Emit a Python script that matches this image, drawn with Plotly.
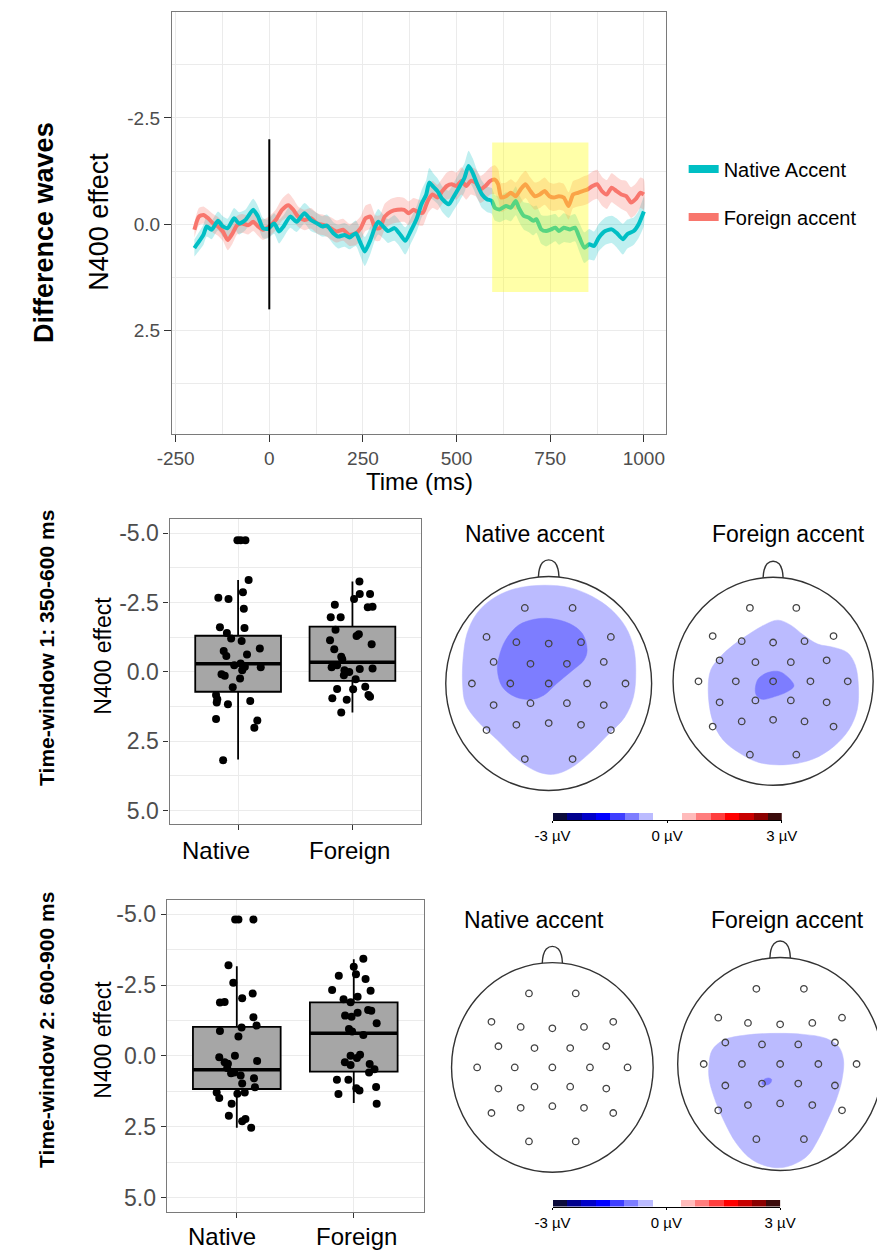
import plotly.graph_objects as go

W, H = 893, 1250
FONT = "Liberation Sans, Arial, sans-serif"

# ---------------- data: difference waves ----------------
native_t = [-200, -188, -176, -167, -154, -137, -124, -111, -94, -81,
            -64, -43, -30, -17, -4, 13, 26, 38, 56, 73,
            94, 111, 128, 141, 154, 171, 184, 201, 214, 231,
            244, 255, 270, 283, 291, 304, 317, 334, 347, 363,
            377, 394, 406, 419, 427, 436, 449, 462, 479, 491,
            509, 521, 532, 543, 555, 568, 581, 594, 602, 615,
            632, 645, 658, 666, 679, 692, 705, 713, 726, 739,
            752, 764, 773, 786, 803, 816, 828, 841, 854, 867,
            880, 897, 914, 927, 944, 956, 973, 986, 1000]
native_v = [0.56, 0.41, 0.25, 0.05, 0.13, -0.08, 0.05, 0.09, -0.14, -0.02,
            -0.10, -0.34, -0.18, 0.09, 0.11, -0.02, 0.17, 0.05, -0.18, -0.06,
            -0.26, -0.10, -0.02, 0.05, 0.03, 0.21, 0.29, 0.25, 0.31, 0.21,
            0.45, 0.64, 0.37, 0.05, -0.06, 0.05, 0.16, 0.09, 0.21, 0.39,
            0.17, -0.14, -0.47, -0.70, -0.98, -0.90, -0.78, -0.59, -0.47, -0.63,
            -0.90, -1.09, -1.37, -1.21, -0.94, -0.70, -0.59, -0.55, -0.39, -0.35,
            -0.43, -0.39, -0.55, -0.39, -0.20, -0.16, -0.08, -0.12, 0.12, 0.16,
            0.12, 0.08, 0.16, 0.08, 0.12, 0.08, 0.31, 0.55, 0.47, 0.51,
            0.31, 0.16, 0.12, 0.20, 0.35, 0.23, 0.16, 0.00, -0.30]
native_se = [0.20, 0.22, 0.24, 0.24, 0.22, 0.22, 0.24, 0.22, 0.24, 0.26,
             0.24, 0.26, 0.24, 0.24, 0.22, 0.24, 0.28, 0.26, 0.26, 0.24,
             0.24, 0.26, 0.24, 0.24, 0.26, 0.26, 0.28, 0.28, 0.28, 0.30,
             0.32, 0.34, 0.32, 0.30, 0.30, 0.28, 0.28, 0.30, 0.30, 0.32,
             0.30, 0.30, 0.32, 0.34, 0.34, 0.32, 0.30, 0.30, 0.32, 0.32,
             0.34, 0.34, 0.36, 0.34, 0.32, 0.32, 0.30, 0.30, 0.30, 0.30,
             0.32, 0.32, 0.34, 0.32, 0.32, 0.34, 0.34, 0.32, 0.34, 0.36,
             0.34, 0.32, 0.32, 0.34, 0.32, 0.32, 0.34, 0.36, 0.36, 0.34,
             0.32, 0.32, 0.32, 0.34, 0.36, 0.34, 0.32, 0.32, 0.34]

foreign_t = [-200, -188, -176, -163, -150, -137, -124, -111, -98, -86,
             -73, -56, -43, -30, -17, 0, 17, 34, 51, 64,
             77, 94, 111, 128, 146, 163, 180, 197, 214, 231,
             244, 257, 270, 283, 295, 308, 325, 342, 360, 372,
             385, 398, 410, 423, 436, 449, 462, 474, 487, 500,
             513, 526, 538, 551, 564, 577, 590, 602, 611, 619,
             632, 645, 658, 671, 684, 697, 709, 722, 735, 748,
             760, 773, 786, 799, 811, 824, 837, 850, 863, 875,
             888, 901, 914, 927, 940, 953, 966, 978, 991, 1000]
foreign_v = [0.13, -0.18, -0.22, -0.14, -0.02, 0.05, 0.17, 0.37, 0.21, 0.02,
             -0.02, 0.02, -0.06, 0.05, 0.13, 0.05, -0.10, -0.34, -0.45, -0.34,
             -0.18, -0.10, -0.14, -0.02, 0.02, 0.09, 0.17, 0.13, 0.25, 0.21,
             0.09, -0.14, -0.18, 0.09, 0.09, -0.18, -0.30, -0.34, -0.34, -0.26,
             -0.34, -0.28, -0.27, -0.55, -0.70, -0.63, -0.78, -0.90, -0.94, -0.90,
             -1.02, -0.90, -1.02, -0.98, -0.82, -0.90, -1.02, -1.05, -0.94, -0.63,
             -0.66, -0.74, -0.66, -0.82, -0.94, -0.78, -0.66, -0.70, -0.78, -0.66,
             -0.63, -0.66, -0.63, -0.43, -0.70, -0.74, -0.78, -0.82, -0.90, -0.94,
             -0.78, -0.70, -0.86, -0.78, -0.70, -0.66, -0.51, -0.59, -0.74, -0.70]
foreign_se = [0.18, 0.20, 0.20, 0.20, 0.22, 0.22, 0.22, 0.24, 0.24, 0.22,
              0.22, 0.22, 0.22, 0.22, 0.24, 0.24, 0.24, 0.26, 0.28, 0.26,
              0.24, 0.24, 0.24, 0.24, 0.24, 0.26, 0.26, 0.26, 0.26, 0.28,
              0.28, 0.30, 0.30, 0.30, 0.30, 0.30, 0.30, 0.30, 0.28, 0.28,
              0.28, 0.30, 0.30, 0.30, 0.32, 0.30, 0.30, 0.32, 0.32, 0.32,
              0.32, 0.32, 0.32, 0.32, 0.32, 0.32, 0.32, 0.34, 0.36, 0.34,
              0.32, 0.32, 0.32, 0.32, 0.32, 0.32, 0.32, 0.32, 0.32, 0.32,
              0.32, 0.32, 0.32, 0.32, 0.32, 0.32, 0.34, 0.34, 0.34, 0.34,
              0.34, 0.34, 0.34, 0.34, 0.34, 0.36, 0.36, 0.36, 0.36, 0.36]

onset_t = 0
onset_span = [-2.0, 2.0]
window_t = [595, 852]
window_v = [-1.92, 1.59]

wave_xticks = [-250, 0, 250, 500, 750, 1000]
wave_xtext = ["-250", "0", "250", "500", "750", "1000"]
wave_xminor = [-125, 125, 375, 625, 875]
wave_yticks = [-2.5, 0.0, 2.5]
wave_ytext = ["-2.5", "0.0", "2.5"]
wave_yminor = [-3.75, -1.25, 1.25, 3.75]
series_names = ["Native Accent", "Foreign accent"]

# ---------------- data: box plots ----------------
box_categories = ["Native", "Foreign"]
box_pos = [1, 2]
box_yticks = [-5.0, -2.5, 0.0, 2.5, 5.0]
box_ytext = ["-5.0", "-2.5", "0.0", "2.5", "5.0"]
box_yminor = [-3.75, -1.25, 1.25, 3.75]

tw1_q1 = [-1.30, -1.63]
tw1_median = [-0.29, -0.34]
tw1_q3 = [0.72, 0.33]
tw1_lower = [-3.31, -3.26]
tw1_upper = [3.16, 1.47]
tw1_native_pts = [-4.74, -4.74, -4.74, -3.31, -2.87, -2.67, -2.63, -2.27, -1.61, -1.58,
                  -1.40, -1.20, -1.11, -0.84, -0.75, -0.57, -0.62, -0.24, -0.30, -0.18,
                  -0.16, -0.06, 0.09, 0.14, 0.24, 0.56, 0.84, 0.99, 1.11, 1.17,
                  1.05, 1.70, 1.76, 2.02, 3.19]
tw1_native_jit = [-0.006, 0.022, 0.064, 0.092, 0.042, -0.173, -0.084, 0.050, -0.159, 0.056,
                  -0.098, -0.061, 0.031, 0.190, -0.126, -0.103, 0.078, -0.034, 0.022, 0.059,
                  0.198, 0.036, -0.145, -0.117, 0.017, -0.047, -0.193, -0.182, -0.187, -0.089,
                  0.106, -0.193, 0.168, 0.142, -0.131]
tw1_foreign_pts = [-3.26, -2.81, -2.81, -2.63, -2.42, -2.33, -2.35, -1.97, -1.97, -1.52,
                   -1.29, -1.35, -1.14, -0.99, -0.81, -0.54, -0.45, -0.16, -0.24, -0.06,
                   0.01, -0.10, -0.12, 0.12, 0.27, 0.62, 0.63, 0.54, 0.95, 1.01,
                   0.84, 0.90, 1.47]
tw1_foreign_jit = [0.061, 0.064, 0.154, 0.014, -0.154, 0.134, 0.176, -0.190, -0.103, -0.148,
                   0.036, 0.056, -0.196, 0.168, -0.159, -0.098, -0.089, -0.182, -0.134, -0.070,
                   -0.028, 0.064, 0.176, -0.075, 0.028, -0.134, 0.006, 0.112, -0.176, -0.050,
                   0.140, 0.154, -0.098]

tw2_q1 = [-1.02, -1.89]
tw2_median = [0.49, -0.80]
tw2_q3 = [1.17, 0.56]
tw2_lower = [-3.16, -3.41]
tw2_upper = [2.54, 1.66]
tw2_native_pts = [-4.81, -4.81, -4.81, -3.20, -2.58, -2.03, -2.20, -1.88, -1.90, -1.36,
                  -1.07, -1.00, -0.88, -0.68, 0.00, 0.05, 0.23, 0.18, 0.43, 0.28,
                  0.61, 0.59, 0.69, 0.98, 0.79, 1.11, 1.29, 1.49, 1.34, 1.29,
                  1.69, 2.11, 2.31, 2.23, 2.54]
tw2_native_jit = [-0.014, 0.014, 0.142, -0.071, -0.030, 0.046, 0.136, -0.144, -0.104, 0.142,
                  0.169, 0.041, -0.144, 0.014, -0.016, -0.150, -0.104, 0.174, -0.082, -0.076,
                  -0.049, -0.022, 0.033, 0.046, 0.147, 0.155, -0.172, -0.150, 0.005, 0.068,
                  -0.044, -0.068, 0.046, 0.074, 0.123]
tw2_foreign_pts = [-3.43, -3.14, -2.88, -2.83, -2.71, -2.32, -2.30, -2.09, -2.00, -1.89,
                   -1.42, -1.38, -1.52, -1.62, -1.59, -1.15, -0.95, -0.86, -0.74, 0.00,
                   -0.04, 0.08, 0.23, 0.32, 0.29, 0.47, 0.59, 0.84, 0.84, 1.14,
                   1.22, 1.10, 1.35, 1.69]
tw2_foreign_jit = [0.082, 0.000, 0.019, -0.128, 0.101, -0.185, 0.144, 0.033, -0.087, -0.027,
                   -0.074, -0.019, 0.033, 0.123, 0.150, 0.196, -0.041, -0.014, 0.082, -0.027,
                   0.054, 0.027, -0.076, -0.027, 0.136, 0.177, 0.131, -0.144, -0.046, 0.022,
                   0.049, 0.191, -0.131, 0.196]

# ---------------- data: topographic maps (head radius = 1) ----------------
elec_x = [-0.232, 0.232, -0.604, -0.314, 0.0, 0.314, 0.604, -0.535, -0.177, 0.177, 0.535,
          -0.746, -0.373, 0.0, 0.373, 0.746, -0.535, -0.177, 0.177, 0.535,
          -0.604, -0.314, 0.0, 0.314, 0.604, -0.232, 0.232]
elec_y = [0.706, 0.706, 0.435, 0.386, 0.373, 0.386, 0.435, 0.202, 0.184, 0.184, 0.202,
          0.0, 0.0, 0.0, 0.0, 0.0, -0.202, -0.184, -0.184, -0.202,
          -0.435, -0.386, -0.370, -0.386, -0.435, -0.706, -0.706]
head_radius = 1.0
nose_x = [-0.10, -0.09, -0.06, 0.0, 0.06, 0.09, 0.10]
nose_y = [0.995, 1.07, 1.13, 1.155, 1.13, 1.07, 0.995]

tw1_native_light_x = [-0.830, -0.793, -0.700, -0.544, -0.327, -0.047, 0.202, 0.420, 0.607, 0.747, 0.824, 0.846,
                      0.824, 0.737, 0.582, 0.395, 0.208, 0.047, -0.109, -0.295, -0.498, -0.700, -0.809, -0.837]
tw1_native_light_y = [0.249, 0.467, 0.653, 0.793, 0.886, 0.918, 0.896, 0.815, 0.691, 0.529, 0.342, 0.124,
                      -0.124, -0.317, -0.473, -0.653, -0.793, -0.849, -0.824, -0.715, -0.529, -0.342, -0.187, 0.0]
tw1_native_dark_x = [-0.498, -0.482, -0.420, -0.295, -0.140, 0.016, 0.202, 0.327, 0.373, 0.342, 0.233, 0.078,
                     -0.047, -0.171, -0.327, -0.451]
tw1_native_dark_y = [0.124, 0.249, 0.404, 0.544, 0.600, 0.607, 0.560, 0.467, 0.311, 0.218, 0.124, 0.0,
                     -0.109, -0.149, -0.124, -0.031]
tw1_foreign_light_x = [-0.649, -0.623, -0.527, -0.399, -0.256, -0.112, 0.048, 0.176, 0.304, 0.447, 0.607, 0.744,
                       0.821, 0.853, 0.840, 0.757, 0.607, 0.399, 0.128, -0.144, -0.335, -0.502, -0.607]
tw1_foreign_light_y = [-0.083, 0.109, 0.236, 0.348, 0.444, 0.530, 0.588, 0.540, 0.444, 0.358, 0.326, 0.275,
                       0.157, -0.051, -0.275, -0.466, -0.626, -0.748, -0.802, -0.780, -0.690, -0.562, -0.371]
tw1_foreign_dark_x = [-0.176, -0.144, -0.048, 0.064, 0.160, 0.208, 0.144, 0.016, -0.112, -0.169]
tw1_foreign_dark_y = [-0.051, 0.029, 0.086, 0.093, 0.029, -0.045, -0.099, -0.147, -0.173, -0.131]
tw2_foreign_light_x = [-0.694, -0.663, -0.553, -0.334, -0.022, 0.228, 0.447, 0.572, 0.619, 0.603, 0.547, 0.463,
                       0.369, 0.259, 0.072, -0.084, -0.272, -0.428, -0.553, -0.647, -0.694]
tw2_foreign_light_y = [0.006, 0.131, 0.225, 0.272, 0.288, 0.278, 0.241, 0.163, 0.038, -0.150, -0.338, -0.525,
                       -0.713, -0.869, -0.963, -0.969, -0.900, -0.744, -0.525, -0.306, -0.134]
tw2_foreign_dark_x = [-0.178, -0.163, -0.116, -0.084, -0.091, -0.131]
tw2_foreign_dark_y = [-0.188, -0.150, -0.131, -0.144, -0.175, -0.197]

cb_breaks = [-3.0, -2.625, -2.25, -1.875, -1.5, -1.125, -0.75, -0.375,
             0.375, 0.75, 1.125, 1.5, 1.875, 2.25, 2.625, 3.0]
cb_colors = ["#0B0B3B", "#00008E", "#0000C8", "#0000FF", "#3E3EFF", "#7D7DFF", "#BBBBFF",
             "#FFFFFF",
             "#FFBBBB", "#FF7D7D", "#FF3E3E", "#FF0000", "#C80000", "#8B0000", "#3B0B0B"]
cb_ticks = [-3, 0, 3]
cb_text = ["-3 \u00b5V", "0 \u00b5V", "3 \u00b5V"]

# ---------------- styles ----------------
TEAL = "#00BFC4"
RED = "#F8766D"
TEAL_FILL = "rgba(0,191,196,0.25)"
RED_FILL = "rgba(248,118,109,0.28)"
GRID = "#EBEBEB"
BORDER = "#7A7A7A"
TICKC = "#333333"
TICKFONT = "#4D4D4D"
LIGHT_BLUE = cb_colors[6]
MID_BLUE = cb_colors[5]


def dom_x(left, right):
    return [left / W, right / W]


def dom_y(top, bottom):
    return [1 - bottom / H, 1 - top / H]


fig = go.Figure()

# ---------------- top panel: difference waves ----------------
for t, v, se, fill in [(native_t, native_v, native_se, TEAL_FILL),
                       (foreign_t, foreign_v, foreign_se, RED_FILL)]:
    upper = [a - b for a, b in zip(v, se)]
    lower = [a + b for a, b in zip(v, se)]
    fig.add_trace(go.Scatter(x=t + t[::-1], y=upper + lower[::-1], fill="toself",
                             fillcolor=fill, line=dict(width=0, shape="spline", smoothing=0.6),
                             mode="lines", hoverinfo="skip", showlegend=False,
                             xaxis="x", yaxis="y"))
for t, v, col in [(foreign_t, foreign_v, RED), (native_t, native_v, TEAL)]:
    fig.add_trace(go.Scatter(x=t, y=v, mode="lines",
                             line=dict(color=col, width=4, shape="spline", smoothing=0.6),
                             showlegend=False, xaxis="x", yaxis="y"))
fig.add_trace(go.Scatter(x=[onset_t, onset_t], y=onset_span, mode="lines",
                         line=dict(color="black", width=2), showlegend=False,
                         xaxis="x", yaxis="y"))
# legend entries
fig.add_trace(go.Scatter(x=[None], y=[None], mode="lines", name=series_names[0],
                         line=dict(color=TEAL, width=8), legend="legend",
                         xaxis="x", yaxis="y"))
fig.add_trace(go.Scatter(x=[None], y=[None], mode="lines", name=series_names[1],
                         line=dict(color=RED, width=8), legend="legend2",
                         xaxis="x", yaxis="y"))

shapes = [dict(type="rect", xref="x", yref="y", x0=window_t[0], x1=window_t[1],
               y0=window_v[0], y1=window_v[1], fillcolor="rgba(255,255,0,0.34)",
               line=dict(width=0), layer="above")]

# ---------------- box plots ----------------
BOX_HALF = 0.375
for ax, q1, med, q3, lo, up, npts, njit, fpts, fjit in [
        ("2", tw1_q1, tw1_median, tw1_q3, tw1_lower, tw1_upper,
         tw1_native_pts, tw1_native_jit, tw1_foreign_pts, tw1_foreign_jit),
        ("3", tw2_q1, tw2_median, tw2_q3, tw2_lower, tw2_upper,
         tw2_native_pts, tw2_native_jit, tw2_foreign_pts, tw2_foreign_jit)]:
    fig.add_trace(go.Box(x=box_pos, q1=q1, median=med, q3=q3, lowerfence=lo, upperfence=up,
                         width=2 * BOX_HALF, fillcolor="#A6A6A6",
                         line=dict(color="black", width=1.8), whiskerwidth=0,
                         boxpoints=False, showlegend=False, hoverinfo="skip",
                         xaxis="x" + ax, yaxis="y" + ax))
    mx, my = [], []
    for p, m in zip(box_pos, med):
        mx += [p - BOX_HALF, p + BOX_HALF, None]
        my += [m, m, None]
    fig.add_trace(go.Scatter(x=mx, y=my, mode="lines", line=dict(color="black", width=3.5),
                             showlegend=False, xaxis="x" + ax, yaxis="y" + ax))
    for p, pts, jit in [(box_pos[0], npts, njit), (box_pos[1], fpts, fjit)]:
        fig.add_trace(go.Scatter(x=[p + j for j in jit], y=pts, mode="markers",
                                 marker=dict(color="black", size=8),
                                 showlegend=False, xaxis="x" + ax, yaxis="y" + ax))

# ---------------- topographic maps ----------------
# (axis id, centre x px, centre y px, radius px, list of (xs, ys, colour))
heads = [
    ("4", 551.7, 683.5, 107.0, [(tw1_native_light_x, tw1_native_light_y, LIGHT_BLUE),
                                (tw1_native_dark_x, tw1_native_dark_y, MID_BLUE)]),
    ("5", 785.0, 681.3, 104.0, [(tw1_foreign_light_x, tw1_foreign_light_y, LIGHT_BLUE),
                                (tw1_foreign_dark_x, tw1_foreign_dark_y, MID_BLUE)]),
    ("6", 555.5, 1067.4, 104.8, []),
    ("7", 792.3, 1064.0, 106.5, [(tw2_foreign_light_x, tw2_foreign_light_y, LIGHT_BLUE),
                                 (tw2_foreign_dark_x, tw2_foreign_dark_y, MID_BLUE)]),
]
HALF = 1.22
layout_axes = {}
for ax, cx, cy, r, regions in heads:
    left = cx - HALF * r
    right = min(cx + HALF * r, W)
    top = cy - HALF * r
    bottom = cy + HALF * r
    common = dict(visible=False, showgrid=False, zeroline=False, fixedrange=True)
    layout_axes["xaxis" + ax] = dict(domain=dom_x(left, right),
                                     range=[-HALF, (right - cx) / r], anchor="y" + ax, **common)
    layout_axes["yaxis" + ax] = dict(domain=dom_y(top, bottom),
                                     range=[-HALF, HALF], anchor="x" + ax, **common)
    for xs, ys, col in regions:
        fig.add_trace(go.Scatter(x=xs + xs[:1], y=ys + ys[:1], mode="lines", fill="toself",
                                 fillcolor=col, line=dict(color=col, width=0.5, shape="spline",
                                                          smoothing=1.0),
                                 hoverinfo="skip", showlegend=False,
                                 xaxis="x" + ax, yaxis="y" + ax))
    fig.add_trace(go.Scatter(x=nose_x, y=nose_y, mode="lines",
                             line=dict(color="#333333", width=1.4, shape="spline"),
                             showlegend=False, xaxis="x" + ax, yaxis="y" + ax))
    fig.add_trace(go.Scatter(x=elec_x, y=elec_y, mode="markers",
                             marker=dict(symbol="circle-open", size=6.5, color="#444444",
                                         line=dict(width=1.3)),
                             showlegend=False, xaxis="x" + ax, yaxis="y" + ax))
    shapes.append(dict(type="circle", xref="x" + ax, yref="y" + ax,
                       x0=-head_radius, x1=head_radius, y0=-head_radius, y1=head_radius,
                       line=dict(color="#333333", width=1.4), layer="above"))

# ---------------- colour bars ----------------
cbars = [("8", 555.7, 794.0, 812.7, 820.0), ("9", 555.7, 792.3, 1199.5, 1206.5)]
for ax, l, rr, t, b in cbars:
    fig.add_trace(go.Bar(y=[0] * (len(cb_breaks) - 1),
                         x=[b2 - b1 for b1, b2 in zip(cb_breaks[:-1], cb_breaks[1:])],
                         base=cb_breaks[:-1], orientation="h", width=1,
                         marker=dict(color=cb_colors, line=dict(width=0)),
                         showlegend=False, hoverinfo="skip",
                         xaxis="x" + ax, yaxis="y" + ax))
    layout_axes["xaxis" + ax] = dict(domain=dom_x(l, rr), range=[cb_breaks[0], cb_breaks[-1]],
                                     anchor="y" + ax, showgrid=False, zeroline=False,
                                     showline=True, linecolor="black", linewidth=1,
                                     ticks="outside", ticklen=2, tickcolor="black",
                                     tickvals=cb_ticks, ticktext=cb_text,
                                     tickfont=dict(size=15, color="black", family=FONT))
    layout_axes["yaxis" + ax] = dict(domain=dom_y(t, b), range=[-0.5, 0.5], anchor="x" + ax,
                                     visible=False, showgrid=False, zeroline=False)

# ---------------- axes for line and box panels ----------------
panel = dict(showline=True, mirror=True, linecolor=BORDER, linewidth=1.1,
             showgrid=True, gridcolor=GRID, gridwidth=1.4, zeroline=False,
             ticks="outside", tickcolor=TICKC, tickwidth=1.2)
layout_axes["xaxis"] = dict(domain=dom_x(160, 674), range=[-260, 1060], anchor="y",
                            tickvals=wave_xticks, ticktext=wave_xtext, ticklen=7,
                            tickfont=dict(size=19, color=TICKFONT, family=FONT),
                            minor=dict(tickvals=wave_xminor, showgrid=True, gridcolor=GRID,
                                       gridwidth=1.0, ticks=""), **panel)
layout_axes["yaxis"] = dict(domain=dom_y(12, 434), range=[4.93, -4.99], anchor="x",
                            tickvals=wave_yticks, ticktext=wave_ytext, ticklen=7,
                            tickfont=dict(size=19, color=TICKFONT, family=FONT),
                            minor=dict(tickvals=wave_yminor, showgrid=True, gridcolor=GRID,
                                       gridwidth=1.0, ticks=""), **panel)
for ax, l, rr, t, b in [("2", 157.5, 419.0, 519.3, 824.3), ("3", 154.5, 422.0, 900.0, 1211.7)]:
    layout_axes["xaxis" + ax] = dict(domain=dom_x(l, rr), range=[0.4, 2.6], anchor="y" + ax,
                                     tickvals=box_pos, ticktext=["", ""], ticklen=5, **panel)
    layout_axes["yaxis" + ax] = dict(domain=dom_y(t, b), range=[5.5, -5.5], anchor="x" + ax,
                                     tickvals=box_yticks, ticktext=box_ytext, ticklen=5,
                                     tickfont=dict(size=23, color=TICKFONT, family=FONT),
                                     minor=dict(tickvals=box_yminor, showgrid=True, gridcolor=GRID,
                                                gridwidth=1.0, ticks=""), **panel)

# ---------------- text ----------------
annotations = []


def txt(text, x, y, size, bold=False, angle=0, color="black"):
    annotations.append(dict(text="<b>%s</b>" % text if bold else text,
                            x=x / W, y=1 - y / H, xref="paper", yref="paper",
                            xanchor="center", yanchor="middle", showarrow=False,
                            textangle=angle, font=dict(size=size, color=color, family=FONT)))


txt("Difference waves", 27, 232, 27, bold=True, angle=-90)
txt("N400 effect", 84, 222, 27, angle=-90)
txt("Time (ms)", 417, 482, 24)
txt("Time-window 1: 350-600 ms", 29, 648, 21, bold=True, angle=-90)
txt("N400 effect", 88, 656, 23, angle=-90)
txt("Time-window 2: 600-900 ms", 29, 1030, 21, bold=True, angle=-90)
txt("N400 effect", 88, 1040, 23, angle=-90)
txt(box_categories[0], 206, 850, 24)
txt(box_categories[1], 345, 850, 24)
txt(box_categories[0], 212, 1236, 24)
txt(box_categories[1], 352, 1236, 24)
txt("Native accent", 537, 534, 23)
txt("Foreign accent", 801, 534, 23)
txt("Native accent", 536, 920, 23)
txt("Foreign accent", 800, 920, 23)

leg = dict(xanchor="left", yanchor="middle", bgcolor="rgba(0,0,0,0)",
           font=dict(size=20, color="black", family=FONT), itemwidth=30)
fig.update_layout(
    width=W, height=H, margin=dict(l=0, r=0, t=0, b=0),
    paper_bgcolor="white", plot_bgcolor="rgba(0,0,0,0)",
    font=dict(family=FONT),
    showlegend=True,
    legend=dict(x=692 / W, y=1 - 169 / H, **leg),
    legend2=dict(x=692 / W, y=1 - 217 / H, **leg),
    shapes=shapes, annotations=annotations, bargap=0,
    **layout_axes,
)

fig.write_html("out.html", config={"displayModeBar": False},
               post_script="document.body.style.margin='0px';document.body.style.overflow='hidden';")
